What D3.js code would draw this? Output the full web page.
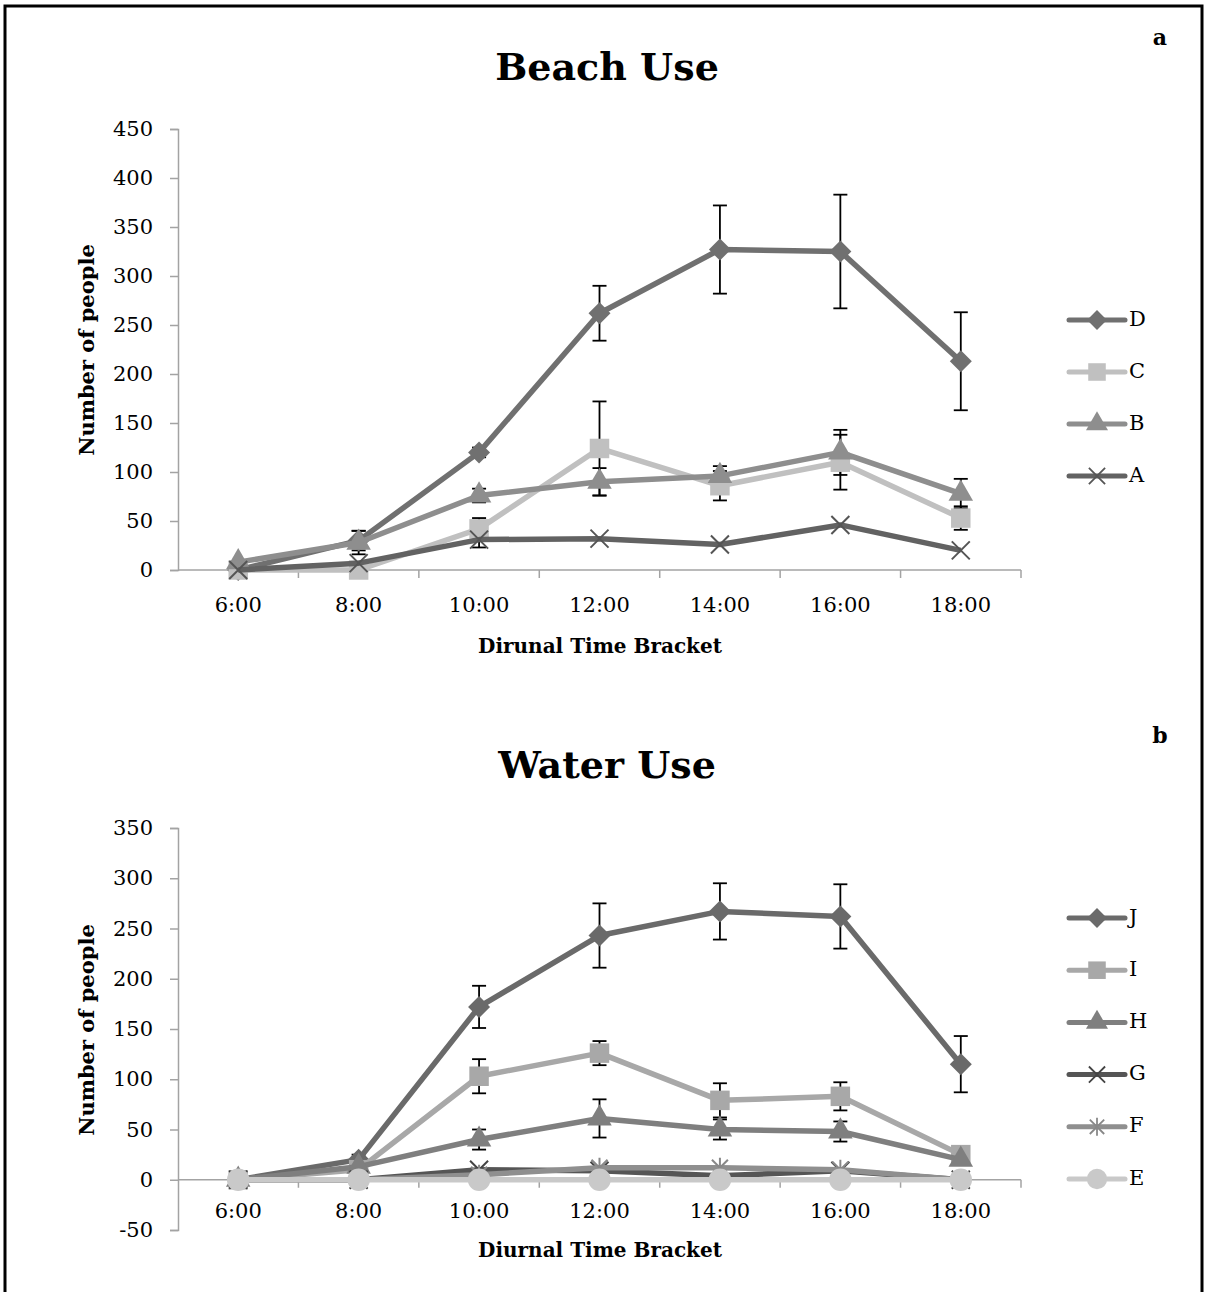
<!DOCTYPE html>
<html>
<head>
<meta charset="utf-8">
<script src="https://cdn.jsdelivr.net/npm/d3@7"></script>
<style>
  body { margin: 0; background: #fff; }
  text { font-family: "DejaVu Serif", serif; fill: #000; }
</style>
</head>
<body>
<div id="chart"></div>
<script>
// time brackets on the x axis
const times = ["6:00", "8:00", "10:00", "12:00", "14:00", "16:00", "18:00"];

// beach use (panel a)
const beachNames = ["D", "C", "B", "A"];
const beachD = [0, 30, 120, 262, 327, 325, 213];
const beachDErr = [0, 10, 5, 28, 45, 58, 50];
const beachC = [0, 0, 42, 124, 86, 110, 53];
const beachCErr = [0, 0, 11, 48, 15, 28, 12];
const beachB = [8, 28, 76, 90, 96, 120, 78];
const beachBErr = [0, 12, 7, 14, 10, 23, 15];
const beachA = [0, 7, 31, 32, 26, 46, 20];
const beachAErr = [0, 0, 8, 0, 0, 0, 0];
const beachTicks = [0, 50, 100, 150, 200, 250, 300, 350, 400, 450];

// water use (panel b)
const waterNames = ["J", "I", "H", "G", "F", "E"];
const waterJ = [0, 20, 172, 243, 267, 262, 115];
const waterJErr = [0, 5, 21, 32, 28, 32, 28];
const waterI = [0, 10, 103, 126, 79, 83, 25];
const waterIErr = [0, 0, 17, 12, 17, 14, 0];
const waterH = [0, 13, 40, 61, 50, 48, 20];
const waterHErr = [0, 0, 10, 19, 10, 10, 0];
const waterG = [0, 0, 10, 9, 4, 9, 0];
const waterF = [0, 0, 5, 12, 12, 10, 0];
const waterE = [0, 0, 0, 0, 0, 0, 0];
const waterTicks = [-50, 0, 50, 100, 150, 200, 250, 300, 350];

const W = 1206, H = 1292;
const svg = d3.select("#chart").append("svg")
    .attr("width", W).attr("height", H);

// outer frame
svg.append("rect")
    .attr("x", 5).attr("y", 6)
    .attr("width", 1197).attr("height", 1310)
    .attr("fill", "none").attr("stroke", "#000").attr("stroke-width", 3);

const axisGray = "#a3a3a3";

// marker shapes
function markerPath(kind) {
    if (kind === "diamond") return "M0,-11L11,0L0,11L-11,0Z";
    if (kind === "square") return d3.symbol(d3.symbolSquare, 380)();
    if (kind === "triangle") return d3.symbol(d3.symbolTriangle, 260)();
    if (kind === "circle") return d3.symbol(d3.symbolCircle, 400)();
    if (kind === "x") return "M-9,-9L9,9M-9,9L9,-9";
    if (kind === "star") return "M-8,-8L8,8M-8,8L8,-8M0,-10L0,10";
    return "";
}
const strokedMarker = k => k === "x" || k === "star";

function drawPanel(opt) {
    const g = svg.append("g");
    const x = d3.scaleBand().domain(times).range([178, 1021]);
    const y = d3.scaleLinear().domain(opt.domain).range(opt.range);
    const cx = t => x(t) + x.bandwidth() / 2;

    // title and panel letter
    g.append("text").attr("x", 607).attr("y", opt.titleY)
        .attr("text-anchor", "middle").attr("font-size", 38).attr("font-weight", "bold")
        .text(opt.title);
    g.append("text").attr("x", 1160).attr("y", opt.letterY)
        .attr("text-anchor", "middle").attr("font-size", 22).attr("font-weight", "bold")
        .text(opt.letter);

    // y axis
    const yAxis = g.append("g").attr("transform", "translate(178,0)")
        .call(d3.axisLeft(y).tickValues(opt.ticks).tickSize(8).tickPadding(17).tickFormat(d => String(d)));
    yAxis.selectAll(".domain").attr("stroke", axisGray).attr("stroke-width", 1.5);
    yAxis.selectAll(".tick line").attr("stroke", axisGray).attr("stroke-width", 1.5);
    yAxis.selectAll(".tick text").attr("font-size", 21).attr("font-family", "DejaVu Serif");

    // x axis at value 0
    const y0 = y(0);
    g.append("line").attr("x1", 178).attr("x2", 1021).attr("y1", y0).attr("y2", y0)
        .attr("stroke", axisGray).attr("stroke-width", 1.5);
    const bounds = times.map(t => x(t)).concat([x.range()[1]]);
    g.selectAll(".xtick").data(bounds.slice(1)).join("line")
        .attr("x1", d => d).attr("x2", d => d)
        .attr("y1", y0).attr("y2", y0 + 8)
        .attr("stroke", axisGray).attr("stroke-width", 1.5);
    g.selectAll(".xlab").data(times).join("text")
        .attr("x", d => cx(d)).attr("y", y0 + opt.labelOffset)
        .attr("text-anchor", "middle").attr("dominant-baseline", "middle")
        .attr("font-size", 21).text(d => d);

    // axis titles
    g.append("text").attr("x", 600).attr("y", opt.xTitleY)
        .attr("text-anchor", "middle").attr("font-size", 20).attr("font-weight", "bold")
        .text(opt.xTitle);
    g.append("text")
        .attr("transform", `translate(88,${opt.yTitleY}) rotate(-90)`)
        .attr("text-anchor", "middle").attr("dominant-baseline", "middle")
        .attr("font-size", 21).attr("font-weight", "bold")
        .text("Number of people");

    // error bars
    opt.series.forEach(s => {
        if (!s.err) return;
        s.values.forEach((v, i) => {
            const e = s.err[i];
            if (!e) return;
            const px = cx(times[i]);
            g.append("line").attr("x1", px).attr("x2", px)
                .attr("y1", y(v - e)).attr("y2", y(v + e))
                .attr("stroke", "#000").attr("stroke-width", 1.8);
            [v - e, v + e].forEach(ev => {
                g.append("line").attr("x1", px - 7).attr("x2", px + 7)
                    .attr("y1", y(ev)).attr("y2", y(ev))
                    .attr("stroke", "#000").attr("stroke-width", 1.8);
            });
        });
    });

    // lines and markers
    const line = d3.line().x((d, i) => cx(times[i])).y(d => y(d));
    opt.series.forEach(s => {
        g.append("path").datum(s.values).attr("d", line)
            .attr("fill", "none").attr("stroke", s.color)
            .attr("stroke-width", 5.5).attr("stroke-linejoin", "round");
        g.selectAll(null).data(s.values).join("path")
            .attr("transform", (d, i) => `translate(${cx(times[i])},${y(d)})`)
            .attr("d", markerPath(s.marker))
            .attr("fill", strokedMarker(s.marker) ? "none" : s.color)
            .attr("stroke", strokedMarker(s.marker) ? s.markerStroke : "none")
            .attr("stroke-width", 2);
    });

    // legend
    opt.series.forEach((s, i) => {
        const ly = opt.legendY + i * opt.legendStep;
        const lg = g.append("g").attr("transform", `translate(1097,${ly})`);
        lg.append("line").attr("x1", -28).attr("x2", 28)
            .attr("stroke", s.color).attr("stroke-width", 5).attr("stroke-linecap", "round");
        lg.append("path").attr("d", markerPath(s.marker))
            .attr("transform", "scale(0.9)")
            .attr("fill", strokedMarker(s.marker) ? "none" : s.color)
            .attr("stroke", strokedMarker(s.marker) ? s.markerStroke : "none")
            .attr("stroke-width", 2);
        lg.append("text").attr("x", 32).attr("y", 0)
            .attr("dominant-baseline", "middle").attr("font-size", 21)
            .text(s.name);
    });
}

drawPanel({
    title: "Beach Use", titleY: 80, letter: "a", letterY: 45,
    domain: [0, 450], range: [570, 129], ticks: beachTicks,
    labelOffset: 36, xTitle: "Dirunal Time Bracket", xTitleY: 653, yTitleY: 350,
    legendY: 320, legendStep: 52,
    series: [
        { name: beachNames[0], values: beachD, err: beachDErr, color: "#707070", marker: "diamond" },
        { name: beachNames[1], values: beachC, err: beachCErr, color: "#c0c0c0", marker: "square" },
        { name: beachNames[2], values: beachB, err: beachBErr, color: "#8e8e8e", marker: "triangle" },
        { name: beachNames[3], values: beachA, err: beachAErr, color: "#626262", marker: "x", markerStroke: "#555" }
    ]
});

drawPanel({
    title: "Water Use", titleY: 778, letter: "b", letterY: 743,
    domain: [-50, 350], range: [1230, 828], ticks: waterTicks,
    labelOffset: 33, xTitle: "Diurnal Time Bracket", xTitleY: 1257, yTitleY: 1030,
    legendY: 918, legendStep: 52.2,
    series: [
        { name: waterNames[0], values: waterJ, err: waterJErr, color: "#6a6a6a", marker: "diamond" },
        { name: waterNames[1], values: waterI, err: waterIErr, color: "#a8a8a8", marker: "square" },
        { name: waterNames[2], values: waterH, err: waterHErr, color: "#7f7f7f", marker: "triangle" },
        { name: waterNames[3], values: waterG, err: null, color: "#555555", marker: "x", markerStroke: "#444" },
        { name: waterNames[4], values: waterF, err: null, color: "#8f8f8f", marker: "star", markerStroke: "#888" },
        { name: waterNames[5], values: waterE, err: null, color: "#c9c9c9", marker: "circle" }
    ]
});
</script>
</body>
</html>
